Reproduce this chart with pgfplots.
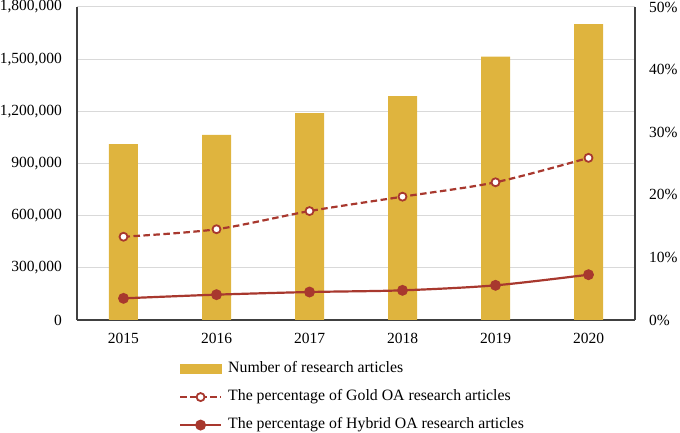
\documentclass[border=0pt]{standalone}
\usepackage{pgfplots}
\pgfplotsset{compat=1.18}
\usepackage{fontspec}
\setmainfont{Liberation Serif}
\definecolor{gold}{RGB}{223,180,62}
\definecolor{oared}{RGB}{168,56,46}
\definecolor{gridc}{RGB}{217,217,217}
\definecolor{axc}{RGB}{64,64,64}

\begin{document}
\begin{tikzpicture}
\pgfplotsset{
  every axis/.append style={font=\fontsize{15.5bp}{18bp}\selectfont},
  common/.style={
    scale only axis, width=558bp, height=313bp,
    xmin=-0.5, xmax=5.5,
    major tick length=0pt,
    tick style={draw=none},
    axis line style={-, axc, line width=1.3bp},
    /pgf/number format/assume math mode=true,
    /pgf/number format/fixed,
  },
}
\begin{axis}[
  common,
  ymin=0, ymax=1800000,
  xtick={0,1,2,3,4,5}, xticklabels={2015,2016,2017,2018,2019,2020},
  ytick={0,300000,600000,900000,1200000,1500000,1800000},
  scaled y ticks=false,
  /pgf/number format/1000 sep={,},
  ymajorgrids, grid style={gridc, line width=1bp},
  axis x line*=bottom, axis y line*=left,
  yticklabel style={inner sep=0pt, anchor=east, xshift=-15bp},
  xticklabel style={inner sep=0pt, anchor=north, yshift=-13bp},
]
\addplot[ybar, bar width=29bp, fill=gold, draw=none] coordinates {
  (0,1012000) (1,1064000) (2,1189000) (3,1288000) (4,1514000) (5,1702000)
};
\end{axis}
\begin{axis}[
  common,
  ymin=0, ymax=50,
  axis x line=none, axis y line*=right,
  ytick={0,10,20,30,40,50},
  yticklabel={\pgfmathprintnumber{\tick}\%},
  yticklabel style={inner sep=0pt, anchor=west, xshift=14bp},
  legend cell align=left,
  legend style={draw=none, fill=none, inner sep=0pt, outer sep=0pt,
    anchor=north west, at={(0.1828,-0.1336)},
    row sep=13.5bp, column sep=6bp,
    nodes={inner sep=0pt, text height=11bp, text depth=3.5bp},
    font=\fontsize{15.8bp}{18bp}\selectfont},
  legend image code/.code={\draw[mark repeat=2,mark phase=2,#1] plot coordinates {(0bp,0bp)(20.5bp,0bp)(41bp,0bp)};},
]
\addlegendimage{legend image code/.code={\fill[gold] (0bp,-4.5bp) rectangle (41bp,4.5bp);}}
\addlegendentry{Number of research articles}
\addplot[oared, line width=2.2bp, dash pattern=on 6.5bp off 3.5bp, smooth,
  mark=*, mark size=4bp, mark options={solid, fill=white, draw=oared, line width=1.8bp}] coordinates {
  (0,13.3) (1,14.5) (2,17.4) (3,19.7) (4,22.0) (5,25.9)
};
\addlegendentry{The percentage of Gold OA research articles}
\addplot[oared, line width=2.2bp, smooth,
  mark=*, mark size=4.3bp, mark options={solid, fill=oared, draw=oared}] coordinates {
  (0,3.46) (1,4.05) (2,4.47) (3,4.74) (4,5.54) (5,7.24)
};
\addlegendentry{The percentage of Hybrid OA research articles}
\end{axis}
\pgfresetboundingbox
\useasboundingbox (-77bp,-113bp) rectangle (603bp,320bp);
\end{tikzpicture}
\end{document}
